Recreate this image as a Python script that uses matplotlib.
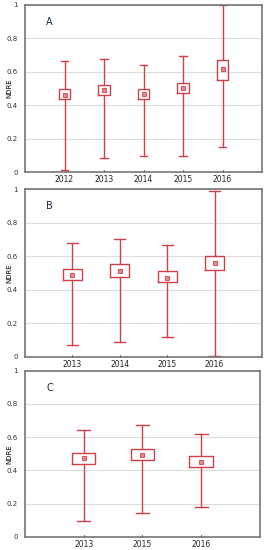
import matplotlib
matplotlib.use('Agg')
import matplotlib.pyplot as plt

# Panel data: years, min, box low, mean, box high, max
years_a = ['2012', '2013', '2014', '2015', '2016']
low_a = [0.012, 0.082, 0.094, 0.094, 0.148]
q1_a = [0.436, 0.462, 0.438, 0.472, 0.554]
mean_a = [0.464, 0.494, 0.470, 0.502, 0.618]
q3_a = [0.498, 0.524, 0.500, 0.534, 0.670]
high_a = [0.662, 0.674, 0.638, 0.692, 0.998]

years_b = ['2013', '2014', '2015', '2016']
low_b = [0.072, 0.087, 0.117, 0.006]
q1_b = [0.459, 0.479, 0.445, 0.517]
mean_b = [0.489, 0.515, 0.473, 0.561]
q3_b = [0.525, 0.557, 0.513, 0.600]
high_b = [0.680, 0.704, 0.668, 0.988]

years_c = ['2013', '2015', '2016']
low_c = [0.097, 0.143, 0.181]
q1_c = [0.441, 0.461, 0.419]
mean_c = [0.473, 0.493, 0.453]
q3_c = [0.505, 0.527, 0.485]
high_c = [0.644, 0.674, 0.620]

red = '#d0404a'
yticks = [0, 0.2, 0.4, 0.6, 0.8, 1]
ylabels = ['0', '0.2', '0.4', '0.6', '0.8', '1']

fig = plt.figure(figsize=(2.66, 5.5), dpi=100)

panels = [
	('A', years_a, low_a, q1_a, mean_a, q3_a, high_a, [0.094, 0.687, 0.891, 0.304], 0.30, 0.2),
	('B', years_b, low_b, q1_b, mean_b, q3_b, high_b, [0.094, 0.351, 0.891, 0.305], 0.40, 0.24),
	('C', years_c, low_c, q1_c, mean_c, q3_c, high_c, [0.094, 0.024, 0.883, 0.302], 0.40, 0.22),
]

for letter, years, lo, q1, mn, q3, hi, rect, bw, cw in panels:
	ax = fig.add_axes(rect)
	stats = []
	for i in range(len(years)):
		stats.append({'med': mn[i], 'q1': q1[i], 'q3': q3[i], 'whislo': lo[i],
					  'whishi': hi[i], 'mean': mn[i], 'label': years[i]})
	pos = list(range(1, len(years) + 1))
	ax.bxp(stats, positions=pos, widths=bw, capwidths=cw, showmeans=True,
		   showfliers=False,
		   boxprops=dict(color=red, linewidth=1.0),
		   whiskerprops=dict(color=red, linewidth=1.0),
		   capprops=dict(color=red, linewidth=1.0),
		   medianprops=dict(visible=False),
		   meanprops=dict(marker='s', markersize=3, markerfacecolor='#e88890',
						  markeredgecolor=red, markeredgewidth=0.6))
	ax.set_xlim(0, len(years) + 1)
	ax.set_ylim(0, 1)
	ax.set_yticks(yticks)
	ax.set_yticklabels(ylabels)
	ax.yaxis.grid(True, color='#dddddd', linewidth=0.8)
	ax.set_axisbelow(True)
	for s in ax.spines.values():
		s.set_color('#777777')
		s.set_linewidth(1.2)
	ax.tick_params(axis='y', length=0, labelsize=5, labelcolor='#333333', pad=5)
	ax.tick_params(axis='x', length=1.5, direction='in', labelsize=5.5, labelcolor='#222222', pad=2)
	ax.set_ylabel('NDRE', fontsize=5)
	ax.yaxis.set_label_coords(-0.055, 0.5)
	ax.text(0.09, 0.88, letter, transform=ax.transAxes, fontsize=7, color='#1a2a3a')

plt.savefig('out.png', dpi=100)
